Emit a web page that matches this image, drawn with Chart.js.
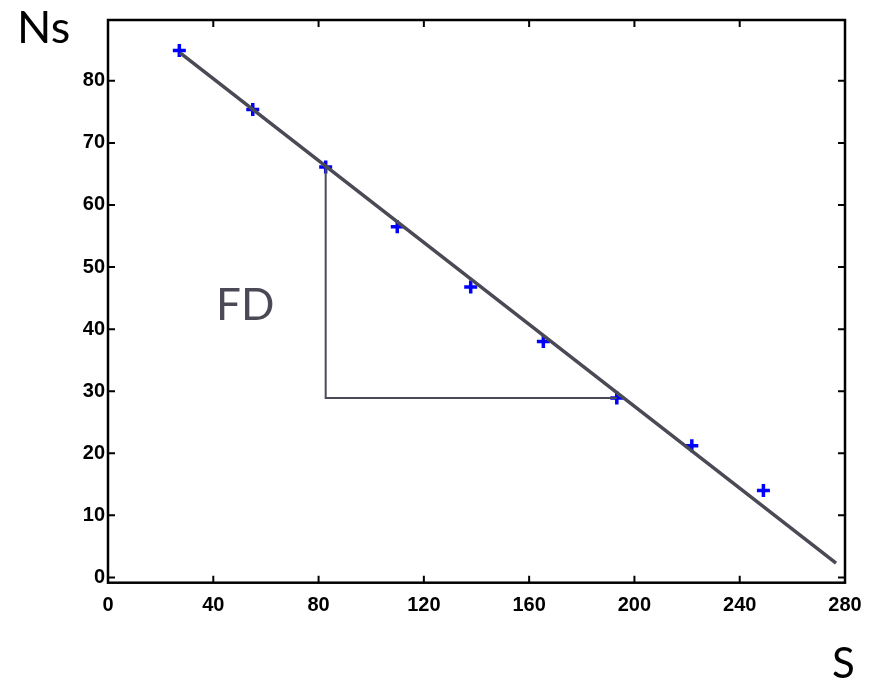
<!DOCTYPE html>
<html>
<head>
<meta charset="utf-8">
<script src="https://cdn.jsdelivr.net/npm/chart.js@4"></script>
<style>
  body { margin: 0; background: #fff; }
  #wrap { width: 895px; height: 684px; }
</style>
</head>
<body>
<div id="wrap"><canvas id="nsChart"></canvas></div>
<script>
// measured points (S, Ns)
const sValues = [27.1, 55.0, 82.7, 109.9, 137.8, 165.4, 193.3, 221.8, 249.0];
const nsValues = [84.9, 75.4, 66.1, 56.5, 46.8, 38.0, 28.9, 21.2, 14.0];

// fitted line endpoints
const fitS = [27.4, 276.6];
const fitNs = [84.5, 2.3];

// slope triangle
const triS = [82.7, 82.7, 193.3];
const triNs = [66.1, 28.9, 28.9];

const xTicks = [0, 40, 80, 120, 160, 200, 240, 280];
const yTicks = [0, 10, 20, 30, 40, 50, 60, 70, 80];

const toXY = (xs, ys) => xs.map((x, i) => ({ x: x, y: ys[i] }));

const lineColor = '#4a4a56';

// box + inward ticks + free text labels
const frameAndLabelsPlugin = {
    id: 'frameAndLabels',
    afterDraw: (chart) => {
        const ctx = chart.ctx;
        const { left, right, top, bottom } = chart.chartArea;
        const xs = chart.scales.x;
        const ys = chart.scales.y;
        const tl = 7;

        ctx.save();
        ctx.strokeStyle = '#000';
        ctx.lineWidth = 2.5;
        ctx.strokeRect(left, top, right - left, bottom - top);

        ctx.lineWidth = 2;
        ctx.beginPath();
        xTicks.forEach(v => {
            const px = xs.getPixelForValue(v);
            ctx.moveTo(px, bottom); ctx.lineTo(px, bottom - tl);
            ctx.moveTo(px, top); ctx.lineTo(px, top + tl);
        });
        yTicks.forEach(v => {
            const py = ys.getPixelForValue(v);
            ctx.moveTo(left, py); ctx.lineTo(left + tl, py);
            ctx.moveTo(right, py); ctx.lineTo(right - tl, py);
        });
        ctx.stroke();

        // axis names
        ctx.fillStyle = '#000';
        ctx.textBaseline = 'alphabetic';
        ctx.textAlign = 'left';
        ctx.font = '45px Lato';
        ctx.fillText('Ns', 17, 43);
        ctx.font = '42px Lato';
        ctx.fillText('S', 832, 678);

        // slope annotation
        ctx.fillStyle = lineColor;
        ctx.font = '44px Lato';
        ctx.fillText('FD', 216, 320);
        ctx.restore();
    }
};

const ctx = document.getElementById('nsChart').getContext('2d');
const nsChart = new Chart(ctx, {
    type: 'scatter',
    data: {
        datasets: [
            {
                type: 'line',
                label: 'fit',
                data: toXY(fitS, fitNs),
                borderColor: lineColor,
                borderWidth: 3.5,
                pointRadius: 0,
                fill: false,
                order: 0
            },
            {
                type: 'line',
                label: 'triangle',
                data: toXY(triS, triNs),
                borderColor: lineColor,
                borderWidth: 2,
                pointRadius: 0,
                fill: false,
                order: 1
            },
            {
                label: 'Ns',
                data: toXY(sValues, nsValues),
                pointStyle: 'cross',
                pointRadius: 6.5,
                pointBorderWidth: 3.5,
                borderWidth: 3.5,
                borderColor: '#0000ff',
                backgroundColor: '#0000ff',
                order: 2
            }
        ]
    },
    options: {
        responsive: true,
        maintainAspectRatio: false,
        animation: false,
        layout: { padding: { left: 0, top: 20, right: 50, bottom: 0 } },
        scales: {
            x: {
                type: 'linear',
                min: 0,
                max: 280,
                afterBuildTicks: (axis) => { axis.ticks = xTicks.map(v => ({ value: v })); },
                afterFit: (axis) => { axis.height = 101.3; },
                grid: { display: false, drawTicks: false },
                border: { display: false },
                ticks: {
                    padding: 11,
                    maxRotation: 0,
                    color: '#000',
                    font: { family: 'Liberation Sans', size: 20, weight: 'bold' }
                }
            },
            y: {
                type: 'linear',
                min: -0.85,
                max: 89.8,
                afterBuildTicks: (axis) => { axis.ticks = yTicks.map(v => ({ value: v })); },
                afterFit: (axis) => { axis.width = 108; },
                grid: { display: false, drawTicks: false },
                border: { display: false },
                ticks: {
                    padding: 3,
                    color: '#000',
                    font: { family: 'Liberation Sans', size: 20, weight: 'bold' }
                }
            }
        },
        plugins: {
            legend: { display: false },
            tooltip: { enabled: false }
        }
    },
    plugins: [frameAndLabelsPlugin]
});
</script>
</body>
</html>
